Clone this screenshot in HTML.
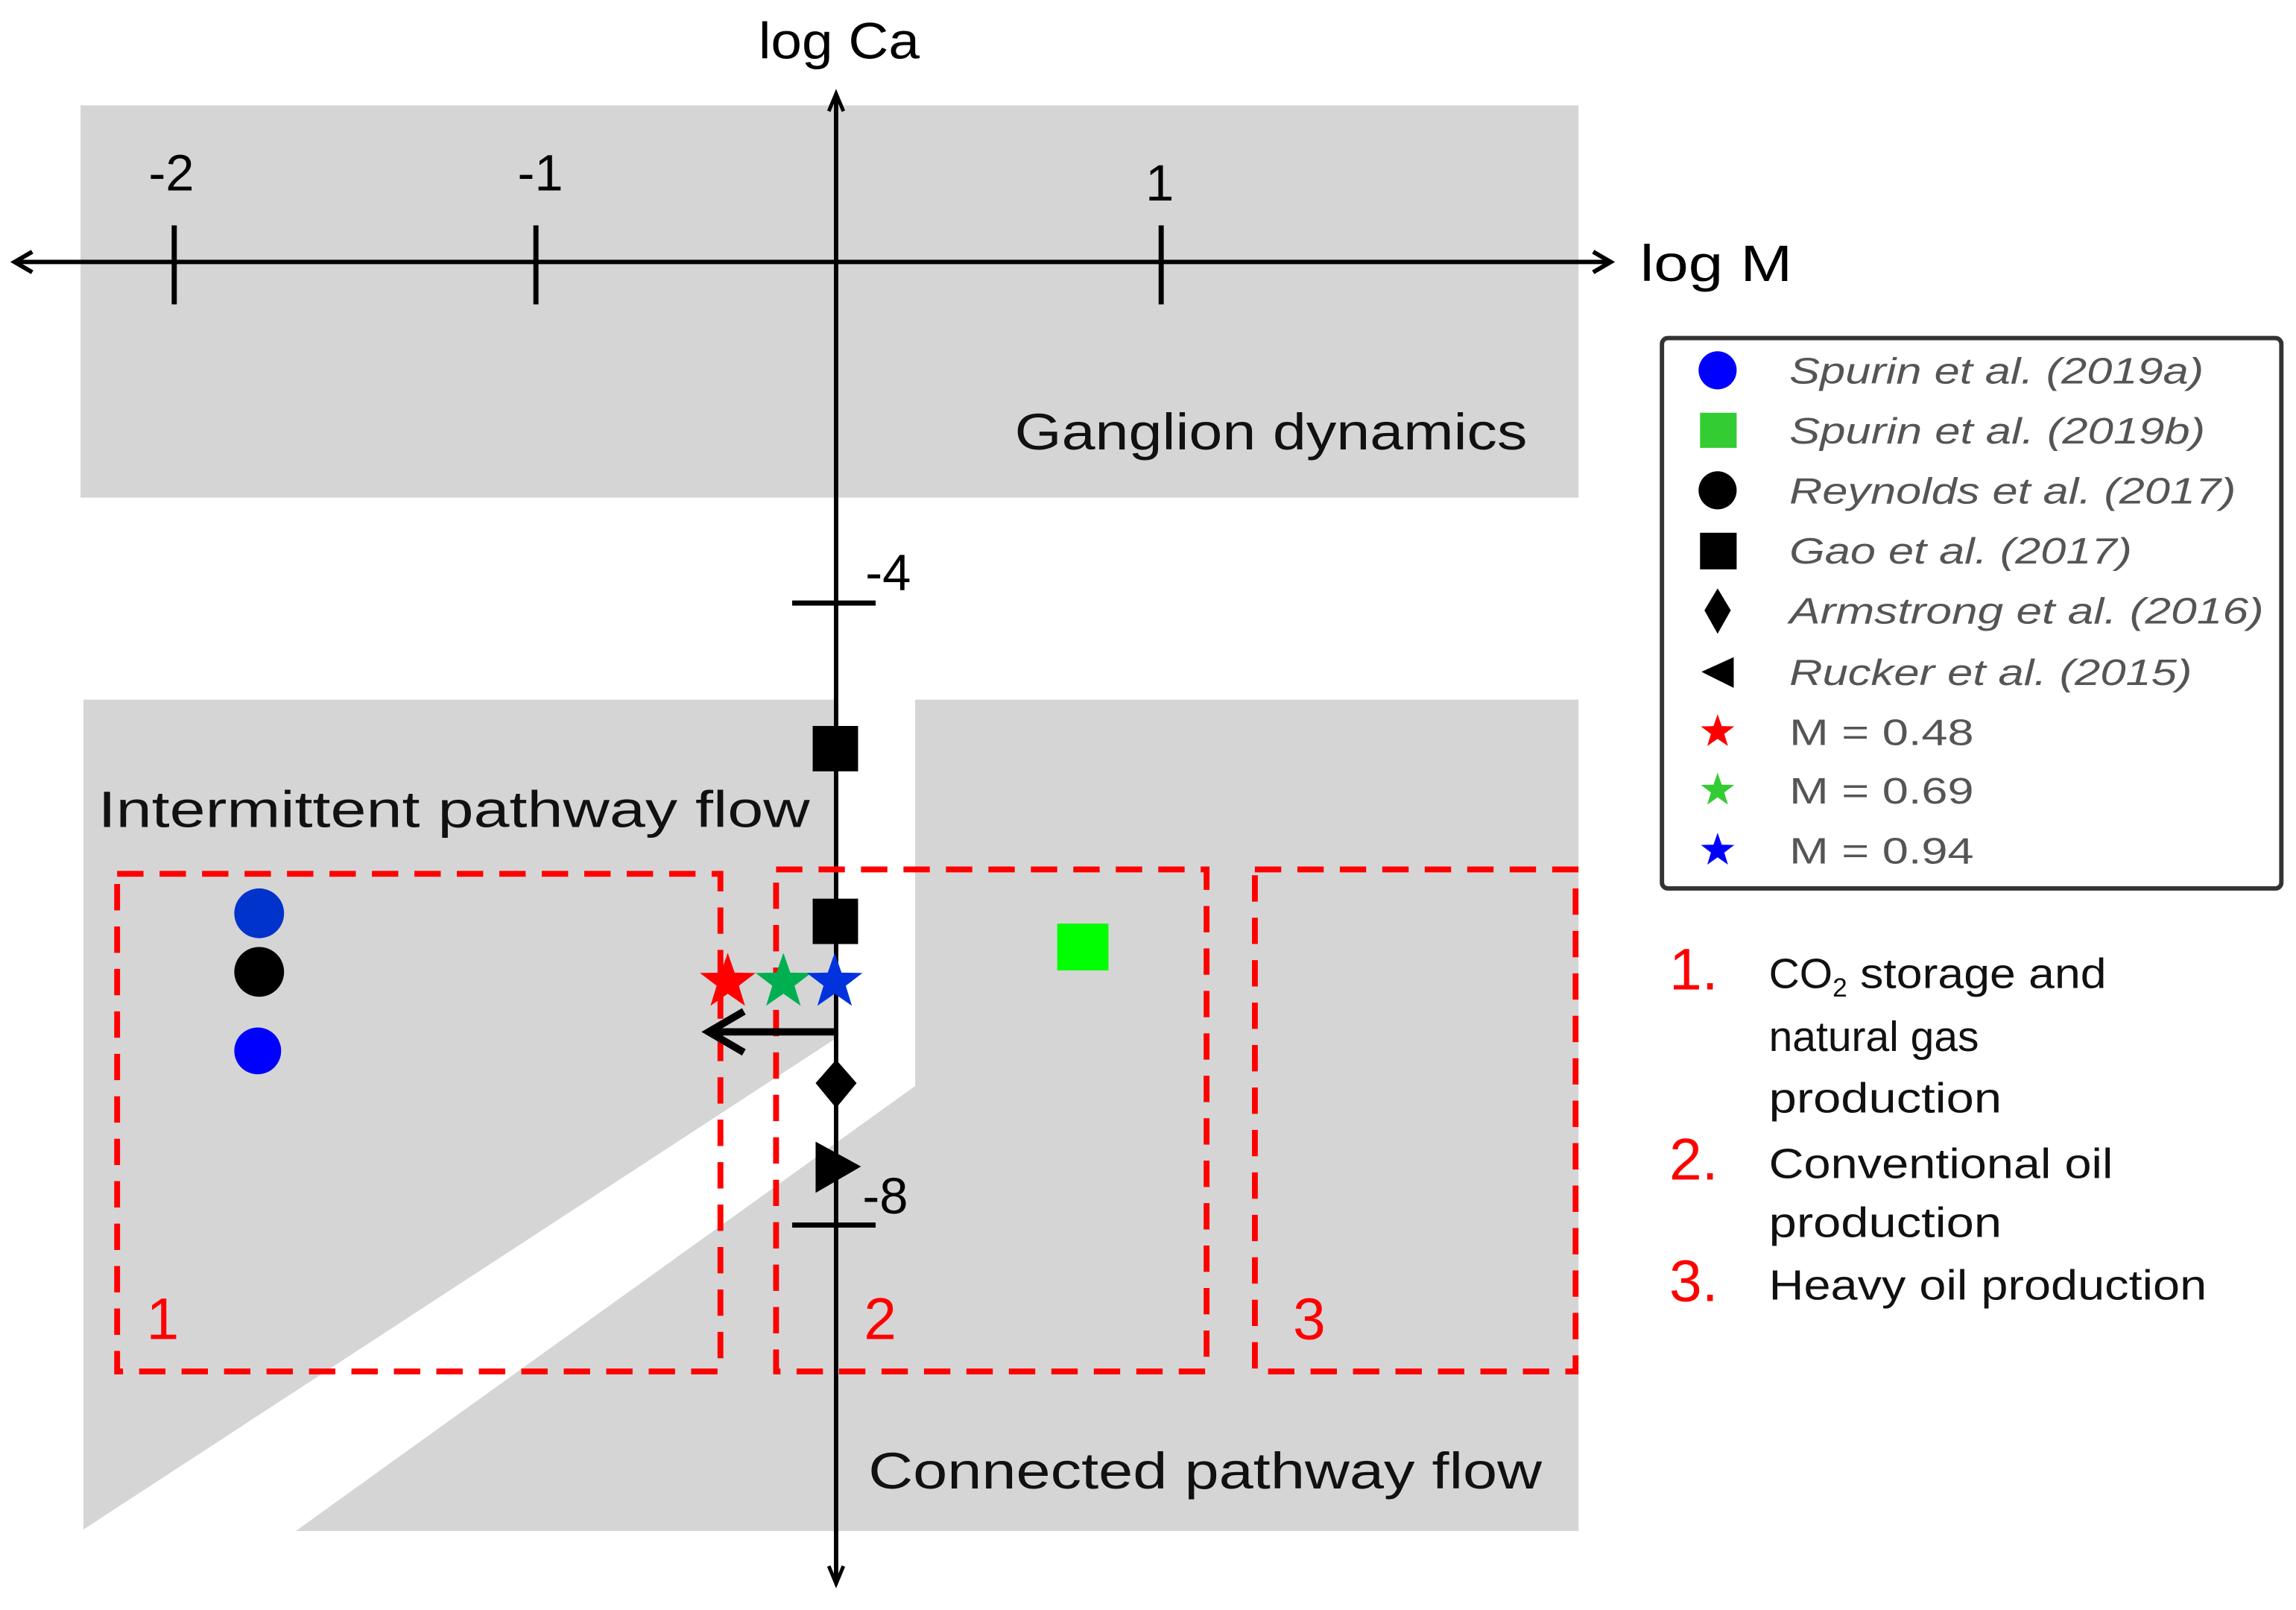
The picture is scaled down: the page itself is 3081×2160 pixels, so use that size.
<!DOCTYPE html>
<html><head><meta charset="utf-8"><style>
html,body{margin:0;padding:0;background:#fff;}
svg{display:block;}
text{font-family:"Liberation Sans","DejaVu Sans",sans-serif;}
</style></head><body>
<svg width="3081" height="2160" viewBox="0 0 1568 1100" preserveAspectRatio="none" xmlns="http://www.w3.org/2000/svg">
<rect x="55" y="72" width="1023" height="268" fill="#d6d5d6"/>
<polygon points="57,478 570,478 570,710 57,1045" fill="#d6d5d6"/>
<polygon points="625,478 1078,478 1078,1046 202,1046 625,742" fill="#d6d5d6"/>
<line x1="12" y1="179" x2="1098" y2="179" stroke="#000" stroke-width="3"/>
<path d="M22,172 L10,179 L22,186" fill="none" stroke="#000" stroke-width="3"/>
<path d="M1088,172 L1100,179 L1088,186" fill="none" stroke="#000" stroke-width="3"/>
<line x1="571" y1="66" x2="571" y2="1080" stroke="#000" stroke-width="3"/>
<path d="M566,76 L571,64 L576,76" fill="none" stroke="#000" stroke-width="2.5"/>
<path d="M566,1070 L571,1082 L576,1070" fill="none" stroke="#000" stroke-width="2.5"/>
<line x1="119" y1="154" x2="119" y2="208" stroke="#000" stroke-width="3.5"/>
<line x1="366" y1="154" x2="366" y2="208" stroke="#000" stroke-width="3.5"/>
<line x1="793" y1="154" x2="793" y2="208" stroke="#000" stroke-width="3.5"/>
<line x1="541" y1="412" x2="598" y2="412" stroke="#000" stroke-width="3.5"/>
<line x1="541" y1="837" x2="598" y2="837" stroke="#000" stroke-width="3.5"/>
<g font-size="35" fill="#000">
<text x="518" y="40" textLength="110" lengthAdjust="spacingAndGlyphs">log Ca</text>
<text x="1120" y="192" textLength="104" lengthAdjust="spacingAndGlyphs">log M</text>
<text x="117" y="130" text-anchor="middle">-2</text>
<text x="369" y="130" text-anchor="middle">-1</text>
<text x="792" y="137" text-anchor="middle">1</text>
<text x="591" y="403">-4</text>
<text x="589" y="829">-8</text>
</g>
<g font-size="35" fill="#111">
<text x="693" y="307" textLength="350" lengthAdjust="spacingAndGlyphs">Ganglion dynamics</text>
<text x="67" y="565" textLength="486" lengthAdjust="spacingAndGlyphs">Intermittent pathway flow</text>
<text x="593" y="1017" textLength="460" lengthAdjust="spacingAndGlyphs">Connected pathway flow</text>
</g>
<g fill="none" stroke="#ff0000" stroke-width="4" stroke-dasharray="18 11">
<rect x="80" y="597" width="412" height="340"/>
<rect x="530" y="594" width="294" height="343"/>
<rect x="857" y="594" width="219" height="343"/>
</g>
<g font-size="40" fill="#ff0000">
<text x="100" y="915">1</text>
<text x="590" y="915">2</text>
<text x="883" y="915">3</text>
</g>
<rect x="555" y="496" width="31" height="31" fill="#000"/>
<rect x="555" y="614" width="31" height="31" fill="#000"/>
<circle cx="177" cy="624" r="17" fill="#0033cc"/>
<circle cx="177" cy="664" r="17" fill="#000"/>
<circle cx="176" cy="718" r="16" fill="#0000ff"/>
<rect x="722" y="631" width="35" height="32" fill="#00ff00"/>
<g transform="translate(497,671)"><polygon points="0,-20 4.7,-6.5 19,-6.2 7.6,2.5 11.8,16.2 0,8 -11.8,16.2 -7.6,2.5 -19,-6.2 -4.7,-6.5" fill="#ff0000"/></g>
<g transform="translate(535,671)"><polygon points="0,-20 4.7,-6.5 19,-6.2 7.6,2.5 11.8,16.2 0,8 -11.8,16.2 -7.6,2.5 -19,-6.2 -4.7,-6.5" fill="#00b050"/></g>
<g transform="translate(570,671)"><polygon points="0,-20 4.7,-6.5 19,-6.2 7.6,2.5 11.8,16.2 0,8 -11.8,16.2 -7.6,2.5 -19,-6.2 -4.7,-6.5" fill="#0033dd"/></g>
<line x1="570" y1="705" x2="486" y2="705" stroke="#000" stroke-width="5"/>
<path d="M508,691 L484,705 L508,719" fill="none" stroke="#000" stroke-width="5"/>
<polygon points="571,724 585,740 571,757 557,740" fill="#000"/>
<polygon points="557,780 588,797 557,815" fill="#000"/>
<rect x="1135" y="231" width="423" height="376" rx="4" fill="#fff" stroke="#333" stroke-width="3"/>
<circle cx="1173" cy="253" r="13" fill="#0000ff"/>
<rect x="1161" y="282" width="25" height="24" fill="#33cc33"/>
<circle cx="1173" cy="335" r="13" fill="#000"/>
<rect x="1161" y="364" width="25" height="25" fill="#000"/>
<polygon points="1173,402 1182,417 1173,433 1164,417" fill="#000"/>
<polygon points="1184,449 1162,459 1184,470" fill="#000"/>
<g transform="translate(1173,500) scale(0.6)"><polygon points="0,-20 4.7,-6.5 19,-6.2 7.6,2.5 11.8,16.2 0,8 -11.8,16.2 -7.6,2.5 -19,-6.2 -4.7,-6.5" fill="#ff0000"/></g>
<g transform="translate(1173,540) scale(0.6)"><polygon points="0,-20 4.7,-6.5 19,-6.2 7.6,2.5 11.8,16.2 0,8 -11.8,16.2 -7.6,2.5 -19,-6.2 -4.7,-6.5" fill="#33cc33"/></g>
<g transform="translate(1173,581) scale(0.6)"><polygon points="0,-20 4.7,-6.5 19,-6.2 7.6,2.5 11.8,16.2 0,8 -11.8,16.2 -7.6,2.5 -19,-6.2 -4.7,-6.5" fill="#0000ff"/></g>
<g font-size="25" fill="#555">
<text x="1222" y="262" font-style="italic" textLength="283" lengthAdjust="spacingAndGlyphs">Spurin et al. (2019a)</text>
<text x="1222" y="303" font-style="italic" textLength="284" lengthAdjust="spacingAndGlyphs">Spurin et al. (2019b)</text>
<text x="1222" y="344" font-style="italic" textLength="305" lengthAdjust="spacingAndGlyphs">Reynolds et al. (2017)</text>
<text x="1222" y="385" font-style="italic" textLength="234" lengthAdjust="spacingAndGlyphs">Gao et al. (2017)</text>
<text x="1222" y="426" font-style="italic" textLength="324" lengthAdjust="spacingAndGlyphs">Armstrong et al. (2016)</text>
<text x="1222" y="468" font-style="italic" textLength="275" lengthAdjust="spacingAndGlyphs">Rucker et al. (2015)</text>
<text x="1222" y="509" textLength="126" lengthAdjust="spacingAndGlyphs">M = 0.48</text>
<text x="1222" y="549" textLength="126" lengthAdjust="spacingAndGlyphs">M = 0.69</text>
<text x="1222" y="590" textLength="126" lengthAdjust="spacingAndGlyphs">M = 0.94</text>
</g>
<g font-size="40" fill="#ff0000">
<text x="1140" y="676">1.</text>
<text x="1140" y="806">2.</text>
<text x="1140" y="889">3.</text>
</g>
<g font-size="29" fill="#111">
<text x="1208" y="675">CO<tspan font-size="18" dy="6">2</tspan><tspan dy="-6" textLength="177" lengthAdjust="spacingAndGlyphs"> storage and</tspan></text>
<text x="1208" y="718">natural gas</text>
<text x="1208" y="760" textLength="159" lengthAdjust="spacingAndGlyphs">production</text>
<text x="1208" y="805" textLength="235" lengthAdjust="spacingAndGlyphs">Conventional oil</text>
<text x="1208" y="845" textLength="159" lengthAdjust="spacingAndGlyphs">production</text>
<text x="1208" y="888" textLength="299" lengthAdjust="spacingAndGlyphs">Heavy oil production</text>
</g>
</svg>
</body></html>
